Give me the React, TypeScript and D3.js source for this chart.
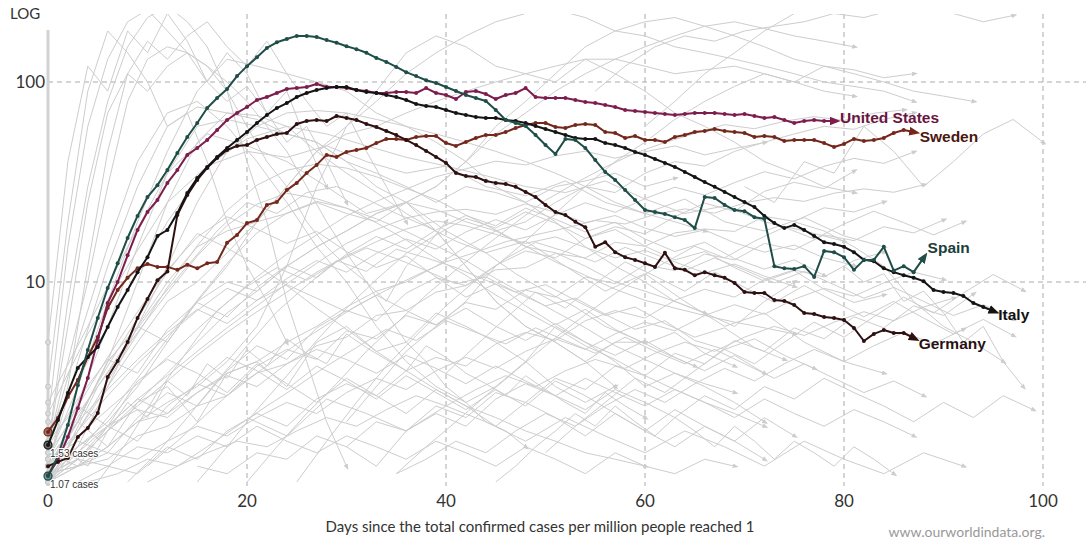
import * as d3 from 'd3';
import React from 'react';

// daily values (cases per million, 7-day avg) from day 0
const spainValues = [
  1.07, 1.35, 1.93, 3.05, 4.57, 6.61, 9.33, 12.4, 16.6, 21.4,
  26.6, 30.5, 36.3, 44.2, 53.1, 62.4, 74.1, 83.2, 92.3, 107,
  120, 133, 148, 158, 164, 170, 170, 168, 162, 157,
  151, 146, 140, 132, 126, 119, 112, 107, 102, 98.9,
  94.4, 90.2, 86.1, 83.2, 80.4, 72.4, 64.6, 62.4, 60.3, 54.3,
  48.4, 43.7, 51.9, 51.3, 46.8, 40.7, 35.5, 32.4, 28.8, 25.7,
  22.9, 22.4, 21.9, 21.1, 20.4, 18.6, 26.6, 26.3, 24.3, 22.9,
  22.6, 21.1, 20.7, 12.0, 11.7, 11.6, 12.0, 10.6, 14.3, 14.1,
  13.3, 11.5, 12.9, 12.9, 15.0, 11.4, 12.0, 11.2, 13.2,
];
const usValues = [
  1.08, 1.29, 1.68, 2.34, 3.31, 5.13, 7.85, 10.0, 13.6, 18.2,
  22.4, 25.7, 31.3, 36.3, 43.2, 46.8, 51.3, 57.5, 64.6, 70.0,
  75.0, 81.3, 84.1, 88.1, 92.3, 93.3, 94.4, 97.7, 94.4, 94.4,
  93.3, 91.2, 90.2, 88.1, 88.1, 89.1, 89.1, 88.1, 93.3, 88.1,
  86.1, 82.2, 89.1, 90.2, 87.1, 82.2, 86.1, 88.1, 93.3, 84.1,
  83.2, 83.2, 83.2, 81.3, 79.4, 78.5, 76.7, 75.0, 72.4, 71.6,
  70.8, 70.0, 69.2, 68.4, 69.2, 70.0, 70.0, 70.0, 69.2, 68.4,
  69.2, 67.6, 66.1, 66.8, 64.6, 62.4, 63.8, 64.6, 63.8, 63.8,
];
const italyValues = [
  1.53, 2.04, 2.79, 3.72, 4.22, 4.73, 5.96, 7.5, 9.12, 11.2,
  13.3, 17.0, 18.2, 22.1, 27.9, 33.1, 37.6, 42.2, 46.8, 51.3,
  56.2, 62.4, 68.4, 74.1, 78.5, 84.1, 88.1, 91.2, 93.3, 94.4,
  94.4, 91.2, 89.1, 88.1, 86.1, 84.1, 81.3, 77.6, 75.9, 75.0,
  72.4, 70.0, 68.4, 66.8, 66.1, 66.1, 64.6, 63.8, 62.4, 60.3,
  58.2, 56.2, 54.3, 52.5, 51.9, 51.9, 49.5, 48.4, 46.8, 44.7,
  43.2, 41.2, 39.4, 37.6, 35.5, 33.5, 31.6, 29.9, 28.2, 26.6,
  25.1, 23.7, 21.4, 19.7, 18.6, 19.3, 18.2, 17.0, 15.8, 15.5,
  15.0, 14.1, 12.9, 12.7, 11.7, 11.2, 10.8, 10.5, 10.1, 9.12,
  8.91, 8.81, 8.51, 7.85, 7.5, 7.16,
];
const germanyValues = [
  1.2, 1.26, 1.32, 1.68, 1.86, 2.21, 3.35, 4.03, 5.01, 6.61,
  8.22, 10.2, 11.3, 21.6, 27.2, 32.4, 37.2, 41.7, 45.7, 47.9,
  48.4, 51.3, 53.1, 55.0, 55.6, 61.7, 63.8, 64.6, 63.8, 67.6,
  66.1, 64.6, 61.7, 59.6, 56.9, 54.3, 51.3, 48.4, 45.2, 42.2,
  39.4, 35.1, 33.9, 33.5, 32.0, 31.3, 30.9, 29.9, 28.2, 26.6,
  24.3, 22.4, 21.6, 20.0, 18.8, 15.0, 15.8, 14.1, 13.3, 12.9,
  12.4, 11.9, 14.0, 11.7, 11.5, 10.8, 11.2, 10.8, 10.5, 9.89,
  8.91, 8.81, 8.81, 8.13, 8.04, 7.67, 7.0, 6.92, 6.68, 6.61,
  6.46, 5.89, 5.07, 5.5, 5.75, 5.56, 5.56, 5.25,
];
const swedenValues = [
  1.78, 2.09, 2.66, 3.24, 4.22, 5.31, 7.41, 9.12, 10.5, 11.7,
  12.3, 11.9, 11.9, 11.5, 12.2, 11.7, 12.4, 12.6, 15.7, 17.2,
  19.7, 20.4, 24.3, 25.1, 28.8, 31.3, 35.1, 38.5, 43.2, 42.2,
  44.7, 45.7, 46.8, 49.5, 51.9, 51.9, 51.3, 53.1, 53.7, 53.7,
  49.5, 47.9, 50.1, 52.5, 54.3, 54.3, 56.2, 58.9, 61.0, 62.4,
  62.4, 59.6, 58.9, 61.0, 61.7, 61.0, 56.2, 55.6, 52.5, 53.7,
  51.3, 51.3, 50.1, 53.1, 54.3, 56.2, 56.9, 58.2, 56.9, 56.2,
  55.6, 53.1, 53.7, 53.1, 50.7, 51.3, 51.3, 51.3, 49.5, 47.3,
  49.0, 51.9, 50.7, 51.3, 52.5, 55.6, 57.5, 56.2,
];

const countryNames = ['Sweden', 'United States', 'Germany', 'Italy', 'Spain'];

// other countries, drawn in grey: values every `step` days from `start`
const bgValues = [
  [1.5, 8, 30, 80, 150, 210, 240, 200, 150, 90, 40, 20, 8, 4, 2, 1.2],
  [2, 15, 60, 130, 200, 230, 180, 140, 120, 90, 60, 40, 30, 20, 15, 12, 10, 8, 12, 15, 20],
  [5, 40, 120, 90, 180, 140, 220, 160, 100, 140, 110, 70, 90, 50, 30],
  [1.2, 3, 12, 45, 110, 160, 130, 170, 200, 150, 120, 160, 110, 80, 60, 70, 45, 30, 20],
  [1, 1.5, 2, 3, 5, 8, 12, 20, 30, 45, 60, 80, 110, 140, 170, 200, 220, 230, 210, 180, 170, 150, 140, 130, 120, 110, 100, 95, 90, 80],
  [1.3, 2, 4, 6, 5, 8, 10, 9, 12, 15, 18, 22, 25, 30, 40, 55, 70, 90, 110, 130, 150, 170, 190, 200, 185, 170, 160, 150],
  [1, 1.2, 1.5, 2, 2.5, 3, 4, 6, 12, 30, 60, 90, 140, 170, 150, 120, 110, 100, 130, 110, 90, 70, 60, 50, 40, 35, 30, 28],
  [1.1, 2, 4, 6, 10, 15, 18, 20, 22, 25, 22, 20, 25, 30, 40, 60, 80, 110, 150, 180, 200, 210, 190, 170, 150, 130, 120, 110, 100, 90, 85, 80],
  [1, 1.5, 3, 5, 8, 10, 14, 20, 30, 45, 55, 60, 70, 80, 90, 100, 110, 120, 130, 130, 120, 110, 115, 120, 110, 100, 90, 85],
  [1.3, 3, 8, 20, 45, 90, 130, 120, 110, 100, 90, 70, 60, 50, 40, 30, 25, 20, 15, 12, 10, 8, 7, 6, 8, 10],
  [1.5, 4, 10, 30, 80, 130, 150, 140, 120, 100, 80, 60, 45, 30, 20, 14, 10, 7, 5, 4, 3, 2.5, 2, 1.8, 1.5],
  [1.2, 4, 12, 30, 60, 75, 70, 65, 55, 50, 40, 35, 30, 25, 30, 28, 25, 30, 32, 35, 30, 33],
  [1.5, 5, 15, 40, 70, 80, 60, 40, 25, 15, 10, 6, 4, 3, 2.5, 3, 4, 3, 2.5, 3],
  [1, 1.8, 3, 6, 12, 25, 45, 60, 70, 72, 70, 65, 60, 55, 50, 45, 40, 35, 30, 25, 22, 20, 18],
  [1.1, 2.5, 6, 15, 35, 60, 65, 60, 55, 50, 40, 30, 25, 18, 12, 8, 6, 5, 4, 3],
  [1.2, 2, 4, 10, 25, 50, 70, 68, 60, 45, 35, 28, 22, 18, 12, 8, 6, 5, 4, 5, 5],
  [1, 1.3, 1.8, 2.5, 3.5, 5, 7, 9, 12, 15, 18, 22, 25, 23, 20, 18, 15, 14, 12, 10, 9, 8, 7],
  [1.1, 1.2, 1.5, 2, 2.2, 2.8, 3.5, 4, 5, 6, 7.5, 9, 10, 12, 15, 18, 20, 25, 30, 28, 35, 40, 38, 45, 50, 55, 60, 58, 65, 70],
  [1.2, 2, 1.5, 2.5, 3, 2, 3.5, 4, 3, 5, 6, 4.5, 5, 7, 6, 5, 4, 6, 5, 4, 3, 3.5, 3, 2.5, 2],
  [1, 1.2, 1.3, 1.7, 1.9, 2.4, 2.7, 3.5, 3.9, 4.8, 5.3, 6.8, 7.2, 8.9, 9.6, 11.5, 11.8, 13.9, 13.2, 15.8, 15.1, 17.6, 18.4, 17.9, 21.3, 20.1, 23.5, 22.4, 25.1],
  [1.5, 3, 5, 8, 12, 18, 25, 22, 28, 30, 26, 22, 19, 16, 14, 11, 9, 7.5, 6, 5.2, 4.4, 3.8],
  [1.3, 1.6, 1.4, 2.1, 2.8, 2.4, 3.6, 4.8, 4.1, 5.9, 7.2, 6.4, 8.8, 10.5, 9.6, 12.1, 14.3, 13.2, 16.5, 18.9, 17.4, 21.2, 24.8, 22.6, 28.4, 31.5, 29.3, 35.8],
  [1, 1.4, 1.2, 1.8, 2.5, 2.1, 3.2, 2.7, 3.9, 3.3, 4.6, 3.8, 5.2, 4.4, 3.9, 5.5, 4.7, 4.1, 3.6, 4.8, 4.2, 3.5, 3.1, 2.7, 3.4, 2.9, 2.5, 2.2, 2.8, 2.4, 2.1],
  [1, 1.6, 2.8, 4.5, 7.2, 9.5, 11.8, 10.2, 12.6, 14.8, 13.1, 11.4, 9.8, 10.6, 8.9, 7.6, 8.3, 6.9, 5.8, 6.4, 5.1, 4.6, 5.2, 4.3, 3.7],
  [1.1, 1.3, 1.9, 1.6, 2.4, 3.1, 2.7, 3.8, 4.6, 4.1, 5.7, 5.2, 6.8, 6.1, 7.9, 7.3, 9.1, 8.4, 10.6, 9.8, 12.2, 11.4, 13.8, 12.9, 15.6, 14.5, 17.2, 16.1, 18.9, 17.6, 20.4],
  [1.4, 2.2, 3.5, 5.6, 8.8, 13.5, 19.2, 24.5, 27.8, 26.1, 23.4, 20.7, 17.9, 15.2, 12.8, 10.4, 8.6, 7.1, 5.9, 4.8, 4.1, 3.5, 3.1, 2.8],
  [1.2, 1.5, 1.9, 2.6, 3.4, 4.5, 5.9, 7.6, 9.8, 12.4, 15.6, 18.3, 20.9, 22.4, 23.1, 21.8, 24.6, 22.3, 19.8, 21.5, 18.6, 16.9, 18.2, 15.7, 14.1, 15.3, 13.2, 12.1],
  [1, 1.2, 1.1, 1.5, 1.3, 1.8, 2.2, 1.9, 2.6, 3.1, 2.7, 3.6, 4.2, 3.8, 4.9, 5.6, 5.1, 6.4, 7.2, 6.6, 8.1, 9.2, 8.4, 10.3, 11.5, 10.6, 12.8, 14.1],
  [1.6, 2.4, 1.9, 3.2, 4.1, 3.5, 2.8, 3.9, 3.1, 2.5, 3.3, 2.7, 2.2, 2.9, 2.4, 1.9, 2.5, 2.1, 1.7, 2.2, 1.8, 1.5, 1.9, 1.6, 1.3],
  [1, 1.8, 3.2, 5.5, 9.4, 15.2, 22.8, 30.5, 36.2, 38.9, 37.1, 33.6, 29.4, 25.8, 21.6, 18.2, 15.1, 12.6, 10.8, 9.2, 8.1, 7.4, 6.8, 6.3, 5.9, 5.5],
  [1.3, 1.7, 2.3, 3.1, 4.2, 5.8, 7.9, 10.6, 13.8, 17.2, 21.4, 25.3, 29.1, 33.6, 36.8, 40.2, 38.5, 42.7, 45.1, 41.6, 44.8, 47.9, 43.2, 46.5, 49.8],
  [1, 1.4, 2.1, 3.2, 4.8, 7.1, 9.6, 12.8, 11.3, 14.6, 13.2, 11.8, 10.2, 8.9, 9.7, 8.1, 6.8, 7.5, 6.2, 5.3, 5.9, 4.7, 4.1],
  [1.1, 1.2, 1.4, 1.3, 1.6, 1.9, 1.7, 2.1, 2.5, 2.2, 2.8, 3.3, 2.9, 3.6, 4.2, 3.7, 4.5, 5.2, 4.6, 5.5, 6.3, 5.7, 6.8, 7.7, 6.9, 8.2, 9.3, 8.5, 9.9, 11.2, 10.3],
  [1.2, 2.1, 3.8, 6.6, 11.2, 17.5, 14.8, 12.1, 9.6, 7.4, 5.8, 4.5, 3.6, 2.9, 2.4, 2.1, 1.8, 1.6, 1.4, 1.3, 1.2],
  [1.5, 2.6, 4.1, 3.5, 5.8, 7.9, 6.7, 9.4, 12.1, 10.5, 13.8, 16.9, 14.6, 18.2, 21.5, 19.1, 23.4, 20.6, 17.8, 19.9, 16.4, 14.2, 15.8, 13.1, 11.6, 12.9, 10.8],
  [1, 1.3, 1.8, 2.4, 3.2, 4.3, 5.6, 7.1, 8.9, 11.2, 13.5, 15.9, 18.4, 20.2, 19.1, 17.3, 15.6, 16.8, 14.9, 13.2, 14.4, 12.6, 11.1, 12.3, 10.7, 9.5],
  [2.5, 6, 15, 35, 55, 48, 40, 30, 22, 25, 18, 14, 16, 12, 9, 11, 8, 6, 7, 5, 4, 3.5],
  [1.8, 4, 9, 20, 38, 52, 60, 55, 48, 42, 38, 34, 30, 28, 32, 26, 22, 24, 20, 18, 16],
  [60, 80, 110, 140, 180, 220, 260, 240, 230, 250, 240, 260, 270, 250],
  [90, 120, 150, 170, 160, 180, 190, 200, 220, 210, 230, 240, 220, 200, 215],
  [30, 25, 40, 35, 60, 45, 30, 40, 55, 65, 50],
  [20, 18, 15, 12, 8, 6, 5, 4],
  [12, 10, 11, 8, 9, 7, 5, 6, 4, 3],
  [3, 20, 90, 180, 140, 100, 60, 70, 40, 20, 12, 8, 5],
  [1.5, 6, 25, 70, 110, 90, 120, 140, 100, 80, 95, 70, 50, 60, 40, 25],
  [2, 3, 4.5, 6, 8, 12, 16, 22, 30, 40, 50, 65, 80, 95, 110, 100, 120, 115, 105, 110],
  [1, 1.5, 2.2, 3.1, 4.5, 6.2, 8.6, 11.5, 15.2, 19.8, 25.6, 31.2, 37.5, 44.1, 49.8, 55.3, 61.2, 58.4, 63.7, 67.1, 64.2, 69.8, 72.5],
  [1.2, 1.6, 2.2, 3.0, 3.8, 4.9, 6.1, 7.6, 9.1, 10.8, 12.6, 14.1, 15.9, 17.2, 18.6, 20.3, 19.5, 21.8, 23.2, 22.1, 24.9, 26.4, 25.3, 27.8, 29.2, 28.1, 30.6],
  [1.1, 1.3, 1.2, 1.5, 1.4, 1.7, 1.5, 1.9, 1.6, 1.4, 1.7, 1.5, 1.3, 1.6, 1.4, 1.2, 1.5, 1.3, 1.1, 1.4, 1.2, 1.1, 1.3, 1.2],
  [1.2, 1.8, 2.7, 3.9, 5.4, 7.2, 9.3, 8.1, 10.4, 12.8, 11.2, 13.9, 16.4, 14.6, 17.8, 20.5, 18.2, 21.6, 24.9, 22.3, 26.1, 29.8, 27.2, 31.4, 35.6, 32.8, 37.9, 41.5, 39.2, 44.6],
  [1.4, 1.2, 1.9, 2.6, 2.2, 3.1, 4.2, 3.6, 2.9, 3.8, 3.2, 2.6, 3.4, 2.8, 2.3, 2.9, 2.4, 3.2, 2.7, 2.2, 1.8, 2.3, 1.9, 1.6, 2.1, 1.7],
  [1.3, 2.4, 4.2, 7.1, 11.5, 16.8, 21.2, 18.4, 15.6, 17.9, 14.2, 11.8, 13.5, 10.6, 8.4, 9.8, 7.6, 6.1, 7.3, 5.8, 4.9, 5.6, 4.4, 3.8],
  [1, 1.5, 2.3, 3.4, 5.1, 7.4, 10.3, 13.9, 17.2, 20.8, 18.6, 22.4, 19.7, 16.5, 18.3, 15.1, 12.9, 14.2, 11.8, 10.1, 11.4, 9.2, 7.9, 8.6],
  [1, 1.4, 2.1, 3.3, 5.2, 8.1, 12.4, 17.6, 22.1, 25.3, 23.4, 19.8, 16.2, 13.1, 10.8, 8.6, 7.1, 5.9, 4.8, 4.1, 3.4, 2.9, 2.5, 2.2, 1.9],
  [2.2, 5.5, 12, 25, 38, 45, 42, 48, 40, 35, 38, 30, 27, 32, 25, 22, 26, 20, 18, 21, 17, 15],
  [1.1, 1.4, 1.9, 2.3, 2.1, 2.8, 3.4, 3.0, 3.9, 4.6, 4.1, 3.5, 4.3, 3.7, 3.1, 3.8, 3.2, 2.7, 3.3, 2.8, 2.4, 2.9, 2.5, 2.1, 2.6, 2.2, 1.9, 2.3, 2.0, 1.7],
  [1, 1.1, 1.3, 1.2, 1.4, 1.6, 1.5, 1.8, 2.1, 1.9, 2.3, 2.7, 2.4, 2.9, 3.4, 3.0, 3.6, 4.1, 3.7, 4.4, 5.0, 4.5, 5.3, 6.0, 5.4, 6.3, 7.1, 6.4, 7.5, 8.3],
  [1.3, 2.0, 2.9, 4.1, 5.6, 7.3, 6.2, 8.1, 9.7, 8.3, 7.1, 8.6, 7.2, 6.1, 7.4, 6.0, 5.1, 6.2, 5.0, 4.3, 5.1, 4.2, 3.6, 4.3, 3.5],
  [1, 1.2, 1.5, 1.9, 2.4, 3.0, 3.8, 4.7, 5.8, 5.1, 6.4, 5.6, 4.9, 5.9, 5.1, 4.4, 5.3, 4.5, 3.9, 4.6, 3.9, 3.3, 3.9, 3.3, 2.8, 3.2, 2.7],
  [1.2, 1.1, 1.4, 1.3, 1.7, 1.5, 2.0, 1.8, 2.4, 2.1, 2.8, 2.5, 3.3, 2.9, 3.8, 3.4, 4.4, 3.9, 5.1, 4.5, 5.9, 5.2, 6.7, 5.9, 7.6, 6.8, 8.7],
  [2.1, 1.7, 2.6, 2.2, 1.8, 2.4, 2.0, 1.6, 2.1, 1.7, 1.4, 1.8, 1.5, 1.2, 1.6, 1.3, 1.1, 1.4, 1.2],
  [1, 1.6, 2.5, 3.8, 5.4, 7.6, 10.2, 13.1, 15.8, 14.2, 12.6, 14.9, 13.1, 11.4, 13.2, 11.5, 9.9, 11.3, 9.7, 8.3, 9.4, 8.0, 6.8, 7.7, 6.5],
  [1.5, 1.2, 1.8, 2.2, 1.9, 2.6, 3.1, 2.7, 2.3, 2.9, 2.5, 2.1, 2.7, 2.3, 3.0, 2.6, 3.3, 2.8, 2.4, 2.0, 2.5, 2.1, 2.7, 2.3],
  [1.1, 1.5, 2.0, 2.7, 3.6, 4.8, 6.3, 8.1, 10.2, 12.5, 15.1, 13.2, 16.0, 18.8, 16.4, 19.5, 22.6, 19.8, 17.2, 19.9],
  [3.5, 4.8, 6.6, 8.9, 7.4, 9.8, 12.6, 10.7, 9.0, 11.2, 9.4, 7.9, 9.6, 8.0, 6.7, 8.0, 6.6, 5.5, 6.5, 5.4],
  [1.4, 1.9, 2.5, 3.3, 2.8, 3.6, 4.6, 3.9, 5.0, 6.3, 5.3, 6.7, 8.4, 7.0, 8.8, 10.9, 9.1],
  [1.1, 1.3, 1.6, 1.4, 1.8, 2.2, 1.9, 2.4, 2.9, 2.5, 3.1, 3.7, 3.2, 3.9, 4.6, 4.0, 4.8, 5.6, 4.9, 5.8],
  [1, 1.2, 1.5, 1.8, 2.2, 1.9, 2.4, 2.0, 1.7, 2.1, 1.8, 1.5, 1.9, 1.6, 1.3, 1.6, 1.4, 1.2, 1.5, 1.3, 1.1],
];
const bgStart = [
  0, 0, 0, 0, 0, 0, 0, 0, 0, 0, 0, 0, 0, 0, 0, 0, 0, 0, 0, 0, 2, 0, 0, 5, 0, 0, 0, 3, 0, 0,
  0, 8, 0, 0, 0, 0, 0, 0, 60, 55, 70, 75, 80, 0, 0, 30, 20, 10, 0, 0, 0, 0, 15, 0, 0,
  0, 4, 0, 10, 15, 20, 25, 30, 35, 40, 50, 35, 45,
];
const bgStep = [
  2, 2, 2, 2, 3, 3, 3, 3, 3, 3, 2, 3, 3, 3, 3, 3, 3, 3, 3, 3, 3, 3, 2, 3, 3, 3, 3, 3, 3, 3,
  3, 3, 3, 3, 3, 3, 4, 4, 3, 3, 3, 3, 2, 2, 2, 3, 3, 3, 3, 3, 3, 3, 3, 3, 4,
  3, 3, 3, 3, 3, 4, 3, 3, 3, 3, 3, 3, 2,
];

const xTicks = [0, 20, 40, 60, 80, 100];
const yTicks = [10, 100];
const startLabels = [
  { value: 1.53, text: '1.53 cases' },
  { value: 1.07, text: '1.07 cases' },
];

const seriesValues = [swedenValues, usValues, germanyValues, italyValues, spainValues];
const lineColors = ['#74281c', '#7d1d4d', '#2e1010', '#141414', '#1f4d48'];
const labelColors = ['#4a1810', '#6a1541', '#2a1010', '#111111', '#1a403b'];
const labelOffsets = [[6, 10], [6, 2], [5, 11], [5, 9], [4, -5]];

export default function App() {
  const W = 1086, H = 540;
  const x = d3.scaleLinear().domain([0, 100]).range([48, 1043]);
  const y = d3.scaleLog().domain([1, 100]).range([482, 82]);
  const line = d3.line<[number, number]>().x(d => x(d[0])).y(d => y(d[1]));

  const bgPoints = bgValues.map((vals, i) =>
    vals.map((v, j) => [bgStart[i] + j * bgStep[i], v] as [number, number]));
  const mainPoints = seriesValues.map(vals => vals.map((v, i) => [i, v] as [number, number]));

  const font = 'Lato, "Open Sans", sans-serif';

  return (
    <svg width={W} height={H} style={{ position: 'absolute', left: 0, top: 0, background: '#fff' }}>
      <defs>
        <clipPath id="plot">
          <rect x={40} y={14} width={W - 40} height={476} />
        </clipPath>
        <marker id="arrow-bg" viewBox="0 0 10 8" refX={3} refY={4} markerWidth={6} markerHeight={5}
          orient="auto" markerUnits="userSpaceOnUse">
          <path d="M0,0 L10,4 L0,8 z" fill="#cdcdcd" />
        </marker>
        {lineColors.map((c, i) => (
          <marker key={i} id={'arrow-' + i} viewBox="0 0 10 8" refX={4} refY={4} markerWidth={11} markerHeight={9}
            orient="auto" markerUnits="userSpaceOnUse">
            <path d="M0,0 L10,4 L0,8 z" fill={c} />
          </marker>
        ))}
      </defs>

      {/* grid */}
      {yTicks.map(t => (
        <line key={t} x1={48} x2={W} y1={y(t)} y2={y(t)} stroke="#aaa" strokeDasharray="5,4" />
      ))}
      {xTicks.filter(t => t > 0).map(t => (
        <line key={t} x1={x(t)} x2={x(t)} y1={14} y2={486} stroke="#aaa" strokeDasharray="5,4" />
      ))}

      {/* other countries */}
      <g clipPath="url(#plot)">
        {bgPoints.map((pts, i) => (
          <path key={i} d={line(pts) || ''} fill="none" stroke="#cdcdcd" strokeWidth={1}
            markerEnd="url(#arrow-bg)" />
        ))}
      </g>
      <line x1={48} x2={48} y1={30} y2={486} stroke="#d2d2d2" strokeWidth={3} />
      {bgPoints.filter(p => p[0][0] === 0).map((pts, i) => (
        <circle key={i} cx={x(0)} cy={y(pts[0][1])} r={2.5} fill="#dadada" stroke="#c6c6c6" />
      ))}

      {/* highlighted countries */}
      <g clipPath="url(#plot)">
        {mainPoints.map((pts, i) => (
          <g key={i}>
            <path d={line(pts) || ''} fill="none" stroke={lineColors[i]} strokeWidth={2}
              strokeLinejoin="round" markerEnd={'url(#arrow-' + i + ')'} />
            {pts.slice(0, -1).map((p, j) => (
              <circle key={j} cx={x(p[0])} cy={y(p[1])} r={2} fill={lineColors[i]} />
            ))}
          </g>
        ))}
      </g>
      {[0, 3, 4].map(i => (
        <circle key={i} cx={x(0)} cy={y(seriesValues[i][0])} r={4} fill={lineColors[i]}
          fillOpacity={0.55} stroke={lineColors[i]} strokeWidth={1.2} />
      ))}
      {startLabels.map(s => (
        <text key={s.text} x={50} y={y(s.value) + 12} fontSize={10} fontFamily="Liberation Sans, Arial, sans-serif"
          fill="#333" stroke="#fff" strokeWidth={2} paintOrder="stroke">{s.text}</text>
      ))}

      {/* end labels */}
      {mainPoints.map((pts, i) => {
        const last = pts[pts.length - 1];
        return (
          <text key={i} x={x(last[0]) + labelOffsets[i][0]} y={y(last[1]) + labelOffsets[i][1]}
            fontSize={15.5} fontWeight="bold" fontFamily="Liberation Sans, Arial, sans-serif"
            fill={labelColors[i]}>{countryNames[i]}</text>
        );
      })}

      {/* axes text */}
      <text x={10} y={19} fontSize={15} fontFamily={font} fill="#333">LOG</text>
      {yTicks.map(t => (
        <text key={t} x={45} y={y(t) + 6} textAnchor="end" fontSize={17} fontFamily={font} fill="#333">{t}</text>
      ))}
      {xTicks.map(t => (
        <text key={t} x={x(t)} y={507} textAnchor="middle" fontSize={17} fontFamily={font} fill="#333">{t}</text>
      ))}
      <text x={540} y={532} textAnchor="middle" fontSize={15} fontFamily={font} fill="#333">
        Days since the total confirmed cases per million people reached 1
      </text>
      <text x={1045} y={537} textAnchor="end" fontSize={14} fontFamily={font} fill="#999">
        www.ourworldindata.org.
      </text>
    </svg>
  );
}
